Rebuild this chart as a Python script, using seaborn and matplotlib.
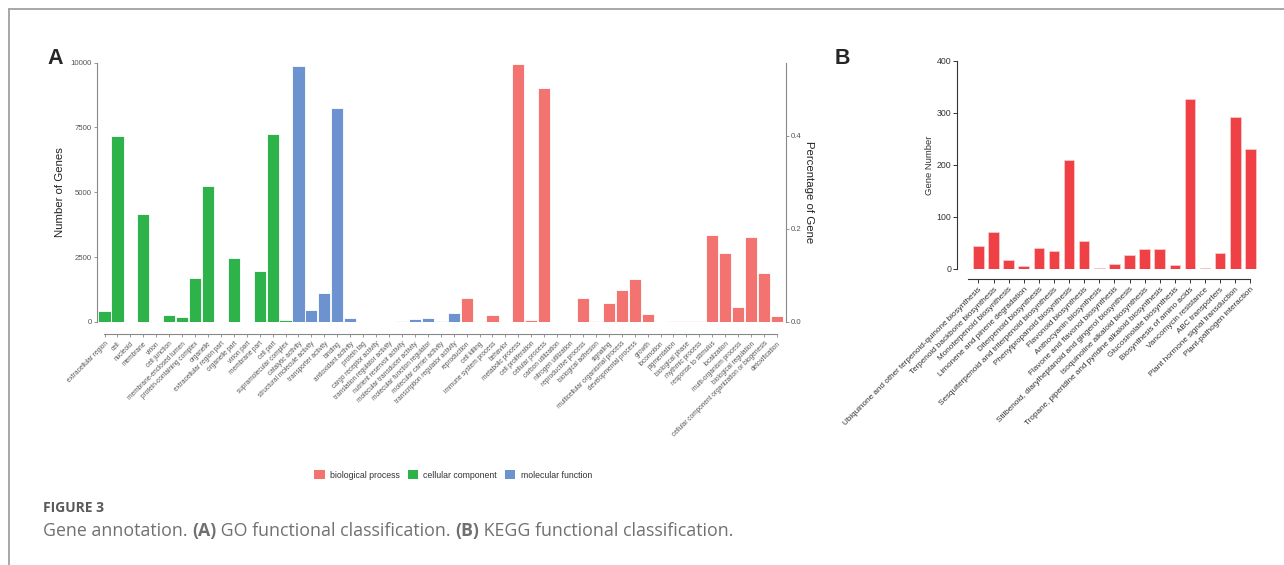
import numpy as np
import pandas as pd
import matplotlib.pyplot as plt
import seaborn as sns
from matplotlib.patches import Patch
from matplotlib.lines import Line2D

# GO classification (panel A)
cc_terms = ["extracellular region", "cell", "nucleoid", "membrane", "virion", "cell junction",
            "membrane-enclosed lumen", "protein-containing complex", "organelle",
            "extracellular region part", "organelle part", "virion part", "membrane part",
            "cell part", "supramolecular complex"]
cc_counts = [424, 7160, 8, 4146, 3, 282, 180, 1682, 5225, 8, 2452, 3, 1977, 7227, 95]

mf_terms = ["catalytic activity", "structural molecule activity", "transporter activity", "binding",
            "antioxidant activity", "protein tag", "cargo receptor activity",
            "translation regulator activity", "nutrient reservoir activity",
            "molecular transducer activity", "molecular function regulator",
            "molecular carrier activity", "transcription regulator activity"]
mf_counts = [9860, 449, 1130, 8254, 167, 3, 3, 4, 48, 100, 141, 25, 347]

bp_terms = ["reproduction", "cell killing", "immune system process", "behavior", "metabolic process",
            "cell proliferation", "cellular process", "carbon utilization", "nitrogen utilization",
            "reproductive process", "biological adhesion", "signaling",
            "multicellular organismal process", "developmental process", "growth", "locomotion",
            "pigmentation", "biological phase", "rhythmic process", "response to stimulus",
            "localization", "multi-organism process", "biological regulation",
            "cellular component organization or biogenesis", "detoxification"]
bp_counts = [937, 6, 257, 3, 9961, 64, 9011, 5, 10, 924, 51, 745, 1220, 1643, 310, 5, 45, 45, 38,
             3350, 2657, 578, 3260, 1900, 231]

ontologies = ["biological process", "cellular component", "molecular function"]
go_colors = {"biological process": "#F2736F", "cellular component": "#2DB34A",
             "molecular function": "#6C93CF"}
total_genes = 17950

# KEGG classification (panel B)
kegg_terms = ["Ubiquinone and other terpenoid-quinone biosynthesis", "Terpenoid backbone biosynthesis",
              "Monoterpenoid biosynthesis", "Limonene and pinene degradation",
              "Diterpenoid biosynthesis", "Sesquiterpenoid and triterpenoid biosynthesis",
              "Phenylpropanoid biosynthesis", "Flavonoid biosynthesis", "Anthocyanin biosynthesis",
              "Flavone and flavonol biosynthesis",
              "Stilbenoid, diarylheptanoid and gingerol biosynthesis",
              "Isoquinoline alkaloid biosynthesis",
              "Tropane, piperidine and pyridine alkaloid biosynthesis",
              "Glucosinolate biosynthesis", "Biosynthesis of amino acids", "Vancomycin resistance",
              "ABC transporters", "Plant hormone signal transduction", "Plant-pathogen interaction"]
kegg_counts = [44, 72, 18, 5, 40, 35, 210, 53, 2, 9, 27, 38, 39, 8, 326, 2, 30, 292, 231]

sns.set_theme(style="ticks")
plt.rcParams["font.family"] = ["Liberation Sans", "DejaVu Sans"]

go = pd.DataFrame({
    "term": cc_terms + mf_terms + bp_terms,
    "count": cc_counts + mf_counts + bp_counts,
    "ontology": ["cellular component"] * len(cc_terms) + ["molecular function"] * len(mf_terms)
                + ["biological process"] * len(bp_terms),
})
kegg = pd.DataFrame({"pathway": kegg_terms, "genes": kegg_counts})

W, H = 1284, 565
fig = plt.figure(figsize=(W / 100, H / 100), dpi=100)

# ---- panel A
axA = fig.add_axes([97 / W, 1 - 322 / H, 689 / W, 259.5 / H])
sns.barplot(data=go, x="term", y="count", hue="ontology", hue_order=ontologies,
            palette=go_colors, order=go["term"], dodge=False, width=0.94, saturation=1,
            edgecolor="white", linewidth=0.6, legend=False, ax=axA)
n = len(go)
# spine moves reset the ticks, so do them first
for s in ["top", "right"]:
    axA.spines[s].set_visible(False)
axA.spines["bottom"].set_position(("outward", 8.6))
axA.spines["left"].set_color("#888888")
axA.spines["left"].set_linewidth(0.8)
axA.spines["bottom"].set_color("#888888")
axA.spines["bottom"].set_linewidth(0.8)

axA.tick_params(axis="y", labelsize=5.6, labelcolor="#555555", length=2.5, width=0.6,
                color="#888888", pad=1)
axA.tick_params(axis="x", length=2.5, width=0.6, color="#888888", pad=2)
axA.set_xlim(-0.58, n - 1 + 0.7)
axA.set_ylim(0, 10000)
axA.set_yticks([0, 2500, 5000, 7500, 10000])
axA.set_xticks(range(n))
axA.set_xticklabels(go["term"], rotation=45, ha="right", va="top", rotation_mode="anchor",
                    fontsize=4.7, color="#555555")
axA.spines["left"].set_bounds(0, 10000)
axA.spines["bottom"].set_bounds(-0.05, n - 1)
axA.set_xlabel("")
axA.set_ylabel("Number of Genes", fontsize=8.2, color="#222222", labelpad=4)

axA2 = axA.twinx()
for s in ["top", "left", "bottom"]:
    axA2.spines[s].set_visible(False)
axA2.spines["right"].set_color("#888888")
axA2.spines["right"].set_linewidth(0.8)
axA2.set_ylim(0, 10000 / total_genes)
axA2.tick_params(axis="y", labelsize=5.6, labelcolor="#555555", length=2.5, width=0.6,
                 color="#888888", pad=1)
axA2.set_yticks([0, 0.2, 0.4])
axA2.set_yticklabels(["0.0", "0.2", "0.4"])
axA2.spines["right"].set_bounds(0, 10000 / total_genes)
axA2.set_ylabel("Percentage of Gene", fontsize=8.2, color="#222222", rotation=-90, labelpad=9)

handles = [Patch(facecolor=go_colors[o], edgecolor="none", label=o) for o in ontologies]
fig.legend(handles=handles, loc="center", bbox_to_anchor=(453 / W, 1 - 475 / H), ncol=3,
           frameon=False, fontsize=6.3, handlelength=1.2, handleheight=1.2,
           handletextpad=0.6, columnspacing=0.9, labelcolor="#333333")

# ---- panel B
axB = fig.add_axes([957 / W, 1 - 269 / H, 305 / W, 208 / H])
sns.barplot(data=kegg, x="pathway", y="genes", color="#EE4045", width=0.7, saturation=1,
            edgecolor="#FAD0D0", linewidth=0.5, ax=axB)
m = len(kegg)
for s in ["top", "right"]:
    axB.spines[s].set_visible(False)
axB.spines["bottom"].set_position(("outward", 7.2))
axB.spines["left"].set_color("#333333")
axB.spines["left"].set_linewidth(0.8)
axB.spines["bottom"].set_color("#333333")
axB.spines["bottom"].set_linewidth(0.8)

axB.tick_params(axis="y", labelsize=6.3, labelcolor="#333333", length=3, width=0.7,
                color="#333333", pad=1)
axB.tick_params(axis="x", length=3, width=0.7, color="#333333", pad=2)
axB.set_xlim(-1.42, m - 1 + 0.77)
axB.set_ylim(0, 400)
axB.set_yticks([0, 100, 200, 300, 400])
axB.set_xticks(range(m))
axB.set_xticklabels(kegg["pathway"], rotation=45, ha="right", va="top", rotation_mode="anchor",
                    fontsize=5.9, color="#333333")
axB.spines["left"].set_bounds(0, 400)
axB.spines["bottom"].set_bounds(-0.66, m - 1)
axB.set_xlabel("")
axB.set_ylabel("Gene Number", fontsize=6.8, color="#333333", labelpad=2)

# panel letters
fig.text(55 / W, 1 - 58 / H, "A", fontsize=15.5, fontweight="bold", ha="center", va="center")
fig.text(842 / W, 1 - 58 / H, "B", fontsize=15.5, fontweight="bold", ha="center", va="center")

# page frame
fig.add_artist(Line2D([9 / W, 1], [1 - 9 / H, 1 - 9 / H], color="#A0A0A0", lw=1.3))
fig.add_artist(Line2D([9 / W, 9 / W], [0, 1 - 9 / H], color="#A0A0A0", lw=1.3))

# caption
cap_font = ["Open Sans", "DejaVu Sans"]
fig.text(43 / W, 1 - 508 / H, "FIGURE 3", fontsize=10, fontweight="bold", color="#5A5A5A",
         family=cap_font, va="center")
renderer = fig.canvas.get_renderer()
pieces = [("Gene annotation. ", "normal"), ("(A)", "bold"), (" GO functional classification. ", "normal"),
          ("(B)", "bold"), (" KEGG functional classification.", "normal")]
x = 43 / W
for txt, wt in pieces:
    t = fig.text(x, 1 - 531 / H, txt, fontsize=12.8, fontweight=wt, color="#707070",
                 family=cap_font, va="center")
    bb = t.get_window_extent(renderer)
    x = bb.x1 / W

fig.savefig("out.png", dpi=100)
